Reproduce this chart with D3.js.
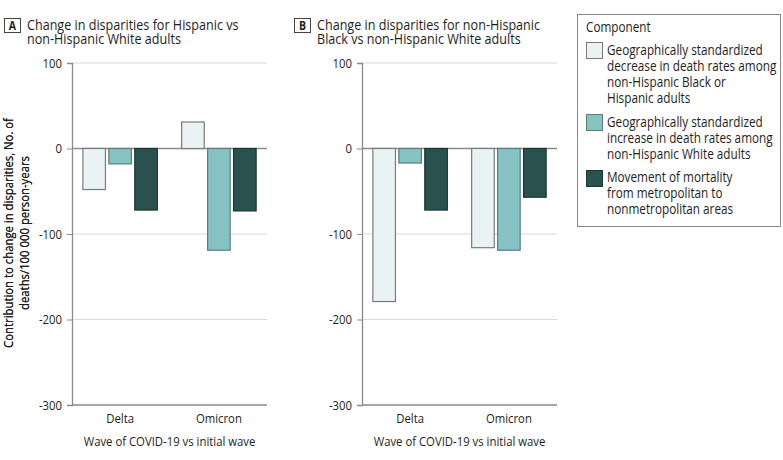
<!DOCTYPE html>
<html><head><meta charset="utf-8">
<script src="https://cdn.jsdelivr.net/npm/d3@7"></script>
<style>
html,body{margin:0;padding:0;background:#fff;}
svg text{font-family:"Open Sans","Noto Sans",sans-serif;fill:#1e1e1e;}
</style></head>
<body><svg id="c" width="783" height="460"></svg>
<script>
const waves = ["Delta", "Omicron"];
const components = [
  "Geographically standardized decrease in death rates among non-Hispanic Black or Hispanic adults",
  "Geographically standardized increase in death rates among non-Hispanic White adults",
  "Movement of mortality from metropolitan to nonmetropolitan areas"
];
const legendLines = [
  ["Geographically standardized", "decrease in death rates among", "non-Hispanic Black or", "Hispanic adults"],
  ["Geographically standardized", "increase in death rates among", "non-Hispanic White adults"],
  ["Movement of mortality", "from metropolitan to", "nonmetropolitan areas"]
];
const colors = ["#eaf3f4", "#85c2c1", "#29524f"];
const strokes = ["#7a7a7a", "#5d7d7c", "#1d3634"];
// values [wave][component]
const hispanicValues = [[-48, -18, -72], [31, -119, -73]];
const blackValues = [[-179, -17, -72], [-116, -119, -57]];
const yTicks = [100, 0, -100, -200, -300];
const panelTitles = [
  ["Change in disparities for Hispanic vs", "non-Hispanic White adults"],
  ["Change in disparities for non-Hispanic", "Black vs non-Hispanic White adults"]
];
const panelLetters = ["A", "B"];
const yTitle = ["Contribution to change in disparities, No. of", "deaths/100 000 person-years"];
const xTitle = "Wave of COVID-19 vs initial wave";

const condense = 0.84;
const svg = d3.select("#c");
const plotTop = 63, plotBottom = 405, pw = 195;
const y = d3.scaleLinear().domain([-300, 100]).range([plotBottom, plotTop]);
const x0 = d3.scaleBand().domain(waves).range([0, pw]).paddingInner(0.246).paddingOuter(0.11);
const x1 = d3.scaleBand().domain(d3.range(components.length)).range([0, x0.bandwidth()]).paddingInner(0.13);

function panel(left, boxX, data, idx) {
  const g = svg.append("g").attr("transform", `translate(${left},0)`);
  // title
  svg.append("rect").attr("x", boxX + 1.5).attr("y", 18.5).attr("width", 16).attr("height", 14)
    .attr("fill", "#fff").attr("stroke", "#444").attr("stroke-width", 1);
  svg.append("text").attr("x", boxX + 9.5).attr("y", 30).attr("text-anchor", "middle")
    .style("font-size", "12.5px").style("font-weight", "bold").text(panelLetters[idx]);
  panelTitles[idx].forEach((l, i) => svg.append("text").attr("x", boxX + 24).attr("y", 30 + i * 14.5)
    .style("font-size", "15px").text(l));

  // grid
  g.selectAll("line.grid").data(yTicks).join("line")
    .attr("x1", 0).attr("x2", pw).attr("y1", d => y(d)).attr("y2", d => y(d))
    .attr("stroke", d => (d === 0 || d === -300) ? "#8a8a8a" : "#d9d9d9")
    .attr("stroke-width", d => (d === 0 || d === -300) ? 1.3 : 1);

  // bars
  const wg = g.selectAll("g.wave").data(data).join("g")
    .attr("transform", (d, i) => `translate(${x0(waves[i])},0)`);
  wg.selectAll("rect").data(d => d).join("rect")
    .attr("x", (d, j) => x1(j)).attr("width", x1.bandwidth())
    .attr("y", d => y(Math.max(0, d))).attr("height", d => Math.abs(y(d) - y(0)))
    .attr("fill", (d, j) => colors[j]).attr("stroke", (d, j) => strokes[j]).attr("stroke-width", 1.2);

  // y axis
  const ya = g.append("g").call(d3.axisLeft(y).tickValues(yTicks).tickSize(5).tickPadding(5).tickFormat(d => String(d)));
  ya.select(".domain").attr("stroke", "#8a8a8a").attr("stroke-width", 1.3);
  ya.selectAll(".tick line").attr("stroke", "#8a8a8a");
  ya.selectAll(".tick text").style("font-size", "13.5px").attr("fill", "#1e1e1e");

  // x labels
  const xa = g.append("g").attr("transform", `translate(0,${plotBottom})`).call(d3.axisBottom(x0).tickSize(0).tickPadding(8));
  xa.select(".domain").remove();
  xa.selectAll(".tick text").style("font-size", "13.5px").attr("fill", "#1e1e1e");

  g.append("text").attr("x", pw / 2).attr("y", 446).attr("text-anchor", "middle").style("font-size", "13.5px").text(xTitle);

  yTitle.forEach((l, i) => g.append("text")
    .attr("transform", `translate(${-left + 13 + i * 16},233) rotate(-90)`)
    .attr("text-anchor", "middle").style("font-size", "13.5px").text(l));
}

panel(72, 3, hispanicValues, 0);
panel(362, 293, blackValues, 1);

// legend
const lg = svg.append("g");
lg.append("rect").attr("x", 577.5).attr("y", 14.5).attr("width", 203).attr("height", 212)
  .attr("fill", "#fff").attr("stroke", "#888").attr("stroke-width", 1);
lg.append("text").attr("x", 586).attr("y", 32).style("font-size", "14px").text("Component");
const swY = [42, 114, 170];
const txY = [55, 127, 182];
components.forEach((c, i) => {
  lg.append("rect").attr("x", 586.5).attr("y", swY[i] + 0.5).attr("width", 16).attr("height", 16)
    .attr("fill", colors[i]).attr("stroke", strokes[i]).attr("stroke-width", 1);
  legendLines[i].forEach((l, k) => lg.append("text").attr("x", 607).attr("y", txY[i] + k * 16)
    .style("font-size", "14px").text(l));
});

// condense all text horizontally (about its anchor) to mimic the narrow typeface
svg.selectAll("text").each(function () {
  const x = +this.getAttribute("x") || 0;
  const t = this.getAttribute("transform") || "";
  this.setAttribute("transform", `${t} translate(${x},0) scale(${condense},1) translate(${-x},0)`.trim());
});
</script></body></html>
